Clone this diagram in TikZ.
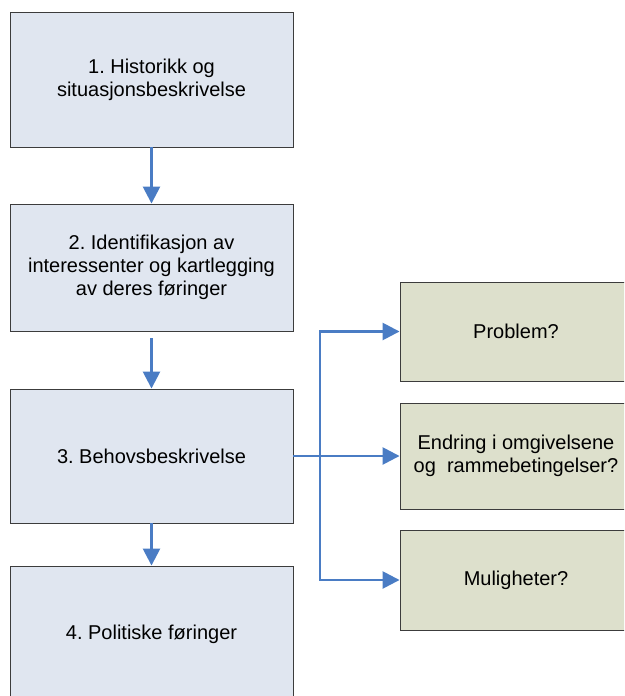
\documentclass[tikz,border=0pt]{standalone}
\usepackage{fontspec}
\setmainfont{Liberation Sans}
\usetikzlibrary{arrows.meta}
\definecolor{boksblaa}{HTML}{E0E6F0}
\definecolor{boksgroenn}{HTML}{DDE0CC}
\definecolor{pilblaa}{HTML}{4A7CC4}
\definecolor{kant}{HTML}{3C3C3C}
\frenchspacing

\begin{document}
\begin{tikzpicture}[x=1pt,y=-1pt,
  boks/.style={draw=kant, line width=0.9pt, fill=boksblaa, align=center,
    minimum width=283pt, inner sep=0pt, font=\fontsize{20}{23}\selectfont},
  sporsmal/.style={boks, fill=boksgroenn, minimum width=232pt},
  pil/.style={draw=pilblaa, line width=2.6pt,
    -{Triangle[length=17pt,width=17pt]}}]
\useasboundingbox (0,0) rectangle (624,696);
\clip (0,0) rectangle (624,696);

\node [boks, minimum height=135pt] (hist) at (151.5,79.5) {1. Historikk og\\situasjonsbeskrivelse};
\node [boks, minimum height=127pt] (ident) at (151.5,267.5) {2. Identifikasjon av\\interessenter og kartlegging\\av deres føringer};
\node [boks, minimum height=134pt] (behov) at (151.5,456) {3. Behovsbeskrivelse};
\node [boks, minimum height=136pt] (polit) at (151.5,634) {4. Politiske føringer};

\node [sporsmal, minimum height=99pt] (problem) at (516,331.5) {Problem?};
\node [sporsmal, minimum height=106pt] (endring) at (516,456) {Endring i omgivelsene\\og~ rammebetingelser?};
\node [sporsmal, minimum height=100pt] (mulig) at (516,580) {Muligheter?};

\draw [pil] (hist) -- (ident);
\draw [pil, shorten <=7pt] (ident) -- (behov);
\draw [pil] (behov) -- (polit);

\coordinate (gren) at (320,456);
\draw [pil] (behov.east) -- (endring.west);
\draw [pil] (gren) |- (problem.west);
\draw [pil] (gren) |- (mulig.west);

\end{tikzpicture}
\end{document}
